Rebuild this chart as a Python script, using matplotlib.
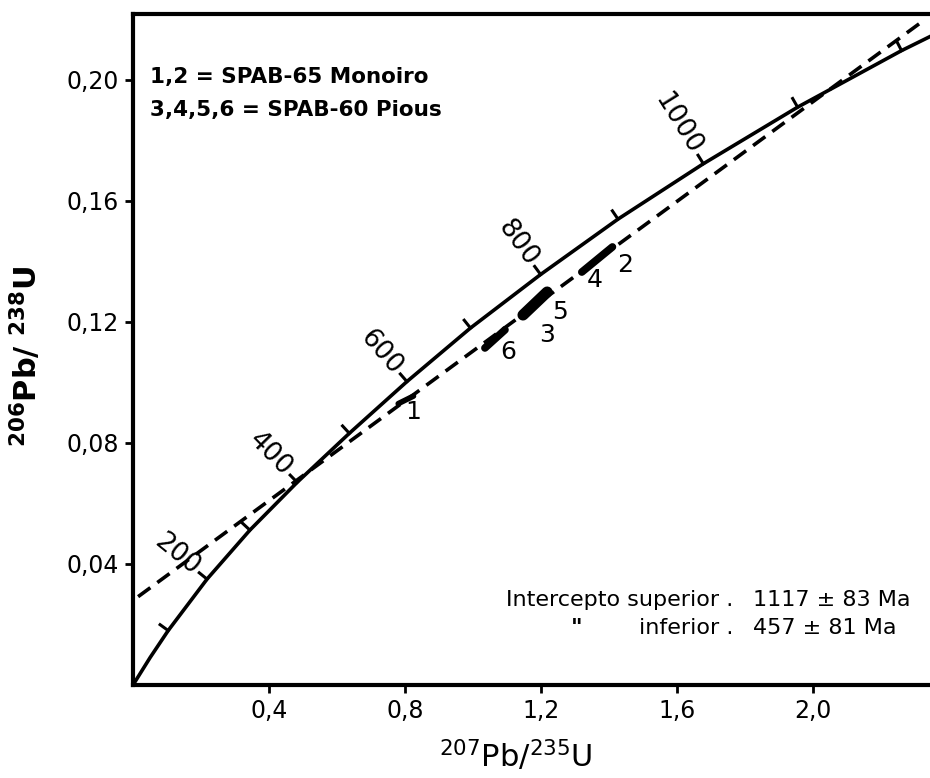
import numpy as np
import matplotlib.pyplot as plt

# concordia: age marks (Ma), 207Pb/235U and 206Pb/238U as drawn
ages = [0, 50, 100, 200, 300, 400, 500, 600, 700, 800, 900, 1000, 1100, 1200, 1300]
conc_x = [0.0, 0.0505, 0.1035, 0.2177, 0.3438, 0.4828, 0.6362, 0.8056, 0.9925,
          1.1988, 1.4264, 1.6774, 1.9546, 2.2603, 2.5977]
conc_y = [0.0, 0.0091, 0.0180, 0.0350, 0.0512, 0.0670, 0.0832, 0.1003, 0.1180,
          0.1357, 0.1540, 0.1723, 0.1910, 0.2097, 0.2284]
tick_ages = [100, 200, 300, 400, 500, 600, 700, 800, 900, 1000, 1100, 1200]
labeled_ages = [200, 400, 600, 800, 1000]

# discordia (dashed) end points
disc_x = [0.015, 2.315]
disc_y = [0.0292, 0.2188]

# analysed zircons: segment ends along the discordia, thickness
samp_x0 = [0.78, 1.035, 1.147, 1.32]
samp_x1 = [0.825, 1.094, 1.218, 1.41]
samp_y0 = [0.0930, 0.1114, 0.1223, 0.1365]
samp_y1 = [0.0955, 0.1174, 0.1299, 0.1448]
samp_w = [4, 5.5, 8, 5.5]

# sample numbers
num_text = ['1', '6', '3', '5', '4', '2']
num_x = [0.824, 1.103, 1.218, 1.256, 1.359, 1.447]
num_y = [0.0902, 0.1101, 0.1157, 0.1233, 0.1339, 0.1388]

xticks = [0.4, 0.8, 1.2, 1.6, 2.0]
xticklabels = ['0,4', '0,8', '1,2', '1,6', '2,0']
yticks = [0.04, 0.08, 0.12, 0.16, 0.20]
yticklabels = ['0,04', '0,08', '0,12', '0,16', '0,20']

fig = plt.figure(figsize=(9.3, 7.78), dpi=100)
ax = fig.add_axes([133/930, 93/778, 797/930, 671/778])
ax.set_xlim(0, 2.344)
ax.set_ylim(0, 0.2218)

ax.plot(conc_x, conc_y, color='black', lw=2.6, solid_capstyle='round')
ax.plot(disc_x, disc_y, color='black', lw=2.6, dashes=(4.2, 2.4))

for x0, x1, y0, y1, w in zip(samp_x0, samp_x1, samp_y0, samp_y1, samp_w):
    ax.plot([x0, x1], [y0, y1], color='black', lw=w, solid_capstyle='round')

for t, x, y in zip(num_text, num_x, num_y):
    ax.text(x, y, t, fontsize=18, ha='center', va='center')

# concordia age ticks and labels
tr = ax.transData
inv = tr.inverted()
pts = tr.transform(np.column_stack([conc_x, conc_y]))
for i, age in enumerate(ages):
    if age not in tick_ages:
        continue
    d = pts[i + 1] - pts[i - 1]
    d = d / np.hypot(*d)
    perp = np.array([-d[1], d[0]])  # points up-left
    p0 = pts[i]
    p1 = p0 + perp * 10
    q0, q1 = inv.transform([p0, p1])
    ax.plot([q0[0], q1[0]], [q0[1], q1[1]], color='black', lw=2.2)
    if age in labeled_ages:
        ang = np.degrees(np.arctan2(d[1], d[0])) - 90
        lp = inv.transform(p0 + perp * 14)
        ax.text(lp[0], lp[1], str(age), fontsize=19, rotation=ang,
                rotation_mode='anchor', ha='right', va='center')

ax.text(0.05, 0.201, '1,2 = SPAB-65 Monoiro', fontsize=15.5, fontweight='bold',
        va='center')
ax.text(0.05, 0.190, '3,4,5,6 = SPAB-60 Pious', fontsize=15.5, fontweight='bold',
        va='center')

ax.text(1.765, 0.0281, 'Intercepto superior .', fontsize=16, ha='right', va='center')
ax.text(1.824, 0.0281, '1117 ± 83 Ma', fontsize=16, ha='left', va='center')
ax.text(1.306, 0.0188, '"', fontsize=16, fontweight='bold', ha='center', va='center')
ax.text(1.765, 0.0188, 'inferior .', fontsize=16, ha='right', va='center')
ax.text(1.824, 0.0188, '457 ± 81 Ma', fontsize=16, ha='left', va='center')

ax.spines['right'].set_visible(False)
for s in ['left', 'bottom', 'top']:
    ax.spines[s].set_linewidth(3)
ax.set_xticks(xticks)
ax.set_xticklabels(xticklabels)
ax.set_yticks(yticks)
ax.set_yticklabels(yticklabels)
ax.tick_params(direction='out', length=6, width=2, labelsize=17, pad=4)
ax.set_xlabel('$^{207}$Pb/$^{235}$U', fontsize=22)
ax.xaxis.set_label_coords(0.48, -0.079)
ax.set_ylabel(r'$^{\mathbf{206}}$Pb/ $^{\mathbf{238}}$U', fontsize=22,
              fontweight='bold')
ax.yaxis.set_label_coords(-0.113, 0.49)

fig.savefig('out.png', dpi=100)
